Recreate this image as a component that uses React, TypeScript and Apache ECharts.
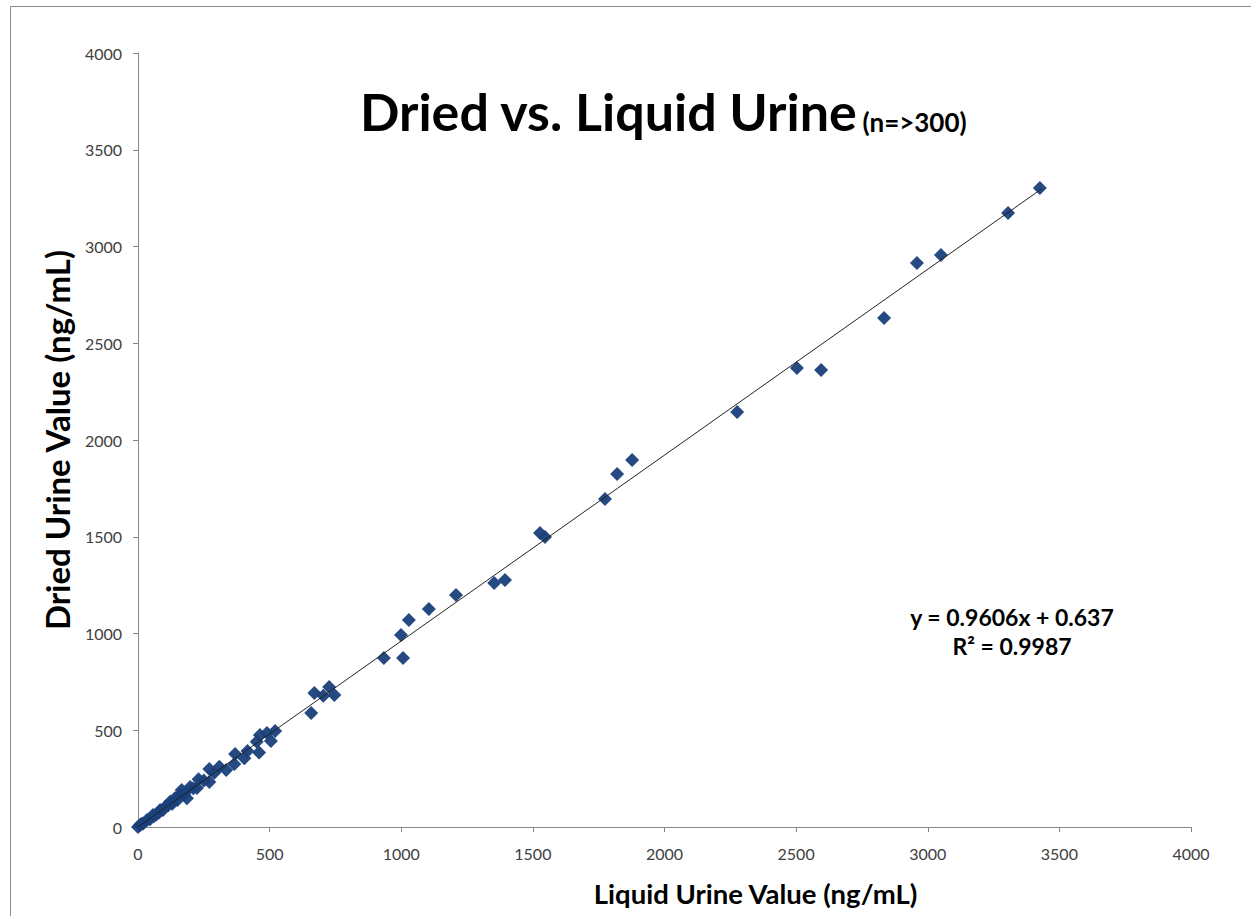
import React, { useEffect, useRef } from "react";
import * as echarts from "echarts";

const liquidValues = [
  3426, 3305, 3050, 2959, 2834, 2595, 2503, 2276, 1877, 1820, 1774, 1546, 1527,
  1394, 1353, 1208, 1105, 1029, 999, 934, 1007, 726, 670, 704, 746, 658, 521,
  490, 463, 505, 451, 460, 416, 404, 369, 366, 335, 309, 271, 271, 230, 224,
  198, 166, 186, 160, 141, 122, 103, 84, 57, 34, 8, 0, 20, 45, 70, 95, 115,
  130, 150, 175, 210, 250, 290, 12, 60, 80,
];
const driedValues = [
  3302, 3173, 2956, 2915, 2630, 2362, 2372, 2145, 1897, 1824, 1695, 1499, 1519,
  1276, 1261, 1199, 1127, 1070, 992, 873, 873, 724, 692, 678, 682, 589, 496,
  486, 475, 444, 441, 385, 393, 355, 377, 325, 294, 311, 300, 233, 247, 201,
  207, 191, 149, 165, 150, 130, 103, 88, 62, 36, 10, 0, 18, 40, 65, 88, 112,
  120, 140, 170, 200, 240, 280, 15, 55, 75,
];
const axisTicks = [0, 500, 1000, 1500, 2000, 2500, 3000, 3500, 4000];
const trendSlope = 0.9606;
const trendIntercept = 0.637;
const trendRSquared = 0.9987;
const trendXStart = 0;
const trendXEnd = 3432;

const FONT = "Lato, 'Open Sans', sans-serif";

export default function App() {
  const ref = useRef<HTMLDivElement>(null);
  useEffect(() => {
    if (!ref.current) return;
    const chart = echarts.init(ref.current, undefined, { renderer: "svg" });
    const points = liquidValues.map((x, i) => [x, driedValues[i]]);
    const trend = [
      [trendXStart, trendSlope * trendXStart + trendIntercept],
      [trendXEnd, trendSlope * trendXEnd + trendIntercept],
    ];
    const axisMax = axisTicks[axisTicks.length - 1];
    const axisInterval = axisTicks[1] - axisTicks[0];
    const axisCommon = {
      type: "value" as const,
      min: axisTicks[0],
      max: axisMax,
      interval: axisInterval,
      splitLine: { show: false },
      axisLine: { show: true, lineStyle: { color: "#868686", width: 1 } },
      axisTick: { show: true, length: 5, lineStyle: { color: "#868686" } },
      nameLocation: "middle" as const,
    };
    const labelStyle = {
      fontFamily: FONT,
      fontSize: 16,
      color: "#404040",
      formatter: (v: number) => String(v),
    };
    chart.setOption({
      animation: false,
      backgroundColor: "#ffffff",
      grid: { left: 138, right: 60, top: 53, bottom: 89, containLabel: false },
      title: {
        text: "{a|Dried vs. Liquid Urine} {b|(n=>300)}",
        left: 658,
        textAlign: "center",
        top: 80,
        textStyle: {
          rich: {
            a: { fontFamily: FONT, fontWeight: "bold", fontSize: 52, color: "#000" },
            b: { fontFamily: FONT, fontWeight: "bold", fontSize: 26, color: "#000", padding: [22, 0, 0, 0] },
          },
        },
      },
      xAxis: {
        ...axisCommon,
        name: "Liquid Urine Value (ng/mL)",
        nameGap: 52,
        nameTextStyle: {
          fontFamily: FONT,
          fontWeight: "bold",
          fontSize: 27.5,
          color: "#000",
          padding: [0, 0, 0, 182],
        },
        axisLabel: { ...labelStyle, margin: 18 },
      },
      yAxis: {
        ...axisCommon,
        name: "Dried Urine Value (ng/mL)",
        nameGap: 63,
        nameTextStyle: {
          fontFamily: FONT,
          fontWeight: "bold",
          fontSize: 33,
          color: "#000",
        },
        axisLabel: { ...labelStyle, margin: 16 },
      },
      series: [
        {
          type: "line",
          data: trend,
          showSymbol: false,
          symbol: "none",
          lineStyle: { color: "#222", width: 1 },
          z: 3,
          silent: true,
        },
        {
          type: "scatter",
          data: points,
          symbol: "diamond",
          symbolSize: [14, 14],
          itemStyle: { color: "#19407a", opacity: 0.95 },
          z: 2,
        },
      ],
      graphic: [
        {
          type: "rect",
          shape: { x: 10.5, y: 6.5, width: 1260, height: 940 },
          style: { fill: "none", stroke: "#8a8a8a", lineWidth: 1 },
          silent: true,
          z: -1,
        },
        {
          type: "text",
          x: 1012,
          y: 617,
          style: {
            text: `y = ${trendSlope}x + ${trendIntercept}`,
            fontFamily: FONT,
            fontWeight: "bold",
            fontSize: 23,
            fill: "#000",
            align: "center",
            verticalAlign: "middle",
          },
        },
        {
          type: "text",
          x: 1012,
          y: 646,
          style: {
            text: `R² = ${trendRSquared}`,
            fontFamily: FONT,
            fontWeight: "bold",
            fontSize: 23,
            fill: "#000",
            align: "center",
            verticalAlign: "middle",
          },
        },
      ],
    });
    return () => chart.dispose();
  }, []);
  return (
    <div
      ref={ref}
      style={{ position: "absolute", left: 0, top: 0, width: 1251, height: 916 }}
    />
  );
}
